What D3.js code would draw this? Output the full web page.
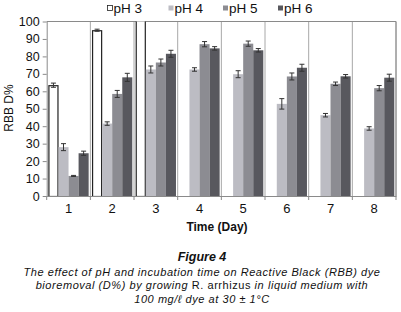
<!DOCTYPE html>
<html><head><meta charset="utf-8">
<script src="https://cdn.jsdelivr.net/npm/d3@7"></script>
<style>
body{margin:0;background:#fff;}
svg{display:block;}
text{font-family:"Liberation Sans",Arial,sans-serif;fill:#111;}
.cap{font-family:"Liberation Sans",Arial,sans-serif;}
</style></head>
<body><svg id="c" width="401" height="312"></svg>
<script>
const days = ["1","2","3","4","5","6","7","8"];
const seriesNames = ["pH 3","pH 4","pH 5","pH 6"];
const pH3 = [63.5, 95, 103, null, null, null, null, null];
const pH4 = [28, 41.5, 72.5, 72.5, 69.8, 52.8, 46.3, 38.7];
const pH5 = [11.5, 58.5, 76.5, 87, 87.3, 68.5, 64.3, 61.8];
const pH6 = [24.5, 68, 81.5, 84.6, 83.5, 73.5, 68.6, 67.8];
const err3 = [1.2, 0.6, 0, 0, 0, 0, 0, 0];
const err4 = [2, 1, 2, 1, 2, 3, 1, 1];
const err5 = [0.3, 2, 2, 1.5, 1.5, 2, 1, 1.5];
const err6 = [1.2, 2.3, 2, 1, 1, 2, 1, 2];
const yTicks = [0,10,20,30,40,50,60,70,80,90,100];
const fills = ["#ffffff","#bcbcc3","#8c8c92","#58585e"];

const svg = d3.select("#c");
const L = 46.7, R = 396, T = 21.5, B = 196;
const x = d3.scaleBand().domain(days).range([L, R]).paddingInner(0).paddingOuter(0);
const xs = d3.scaleBand().domain(seriesNames).range([0, x.bandwidth()]).paddingOuter(0.17).paddingInner(0);
const y = d3.scaleLinear().domain([0,100]).range([B, T]);

svg.append("clipPath").attr("id","pc").append("rect").attr("x",L).attr("y",T).attr("width",R-L).attr("height",B-T);

const bounds = days.map(d => x(d)).concat([R]);
svg.append("g").selectAll("line").data(bounds.slice(1)).join("line")
  .attr("x1",d=>d).attr("x2",d=>d).attr("y1",T).attr("y2",B)
  .attr("stroke","#a8a8a8").attr("stroke-width",1);
svg.append("line").attr("x1",L).attr("x2",R).attr("y1",T).attr("y2",T).attr("stroke","#8a8a8a");

const vals = [pH3,pH4,pH5,pH6], errs=[err3,err4,err5,err6];
const data = [];
days.forEach((d,i)=>seriesNames.forEach((s,j)=>{
  if(vals[j][i]!=null) data.push({d,s,j,v:vals[j][i],e:errs[j][i]});
}));
const g = svg.append("g").attr("clip-path","url(#pc)");
g.selectAll("rect").data(data).join("rect")
  .attr("x",o=>x(o.d)+xs(o.s) + (o.j===0?0.5:0))
  .attr("width",o=>xs.bandwidth() - (o.j===0?1:0))
  .attr("y",o=>y(o.v)+(o.j===0?0.5:0))
  .attr("height",o=>B-y(o.v))
  .attr("fill",o=>fills[o.j])
  .attr("stroke",o=>o.j===0?"#222":"none").attr("stroke-width",1.2);

const eb = svg.append("g").attr("stroke","#333").attr("stroke-width",1);
data.filter(o=>o.e>0).forEach(o=>{
  const cx = x(o.d)+xs(o.s)+xs.bandwidth()/2;
  eb.append("line").attr("x1",cx).attr("x2",cx).attr("y1",y(o.v+o.e)).attr("y2",y(o.v-o.e));
  eb.append("line").attr("x1",cx-2.5).attr("x2",cx+2.5).attr("y1",y(o.v+o.e)).attr("y2",y(o.v+o.e));
  eb.append("line").attr("x1",cx-2.5).attr("x2",cx+2.5).attr("y1",y(o.v-o.e)).attr("y2",y(o.v-o.e));
});

const ya = svg.append("g").attr("transform",`translate(${L},0)`)
  .call(d3.axisLeft(y).tickValues(yTicks).tickSize(4).tickPadding(3).tickSizeOuter(0));
ya.select(".domain").attr("stroke","#8a8a8a");
ya.selectAll(".tick line").attr("stroke","#8a8a8a");
ya.selectAll("text").attr("font-size",12.5).style("font-family","Liberation Sans, Arial, sans-serif").attr("fill","#111");

const xa = svg.append("g").attr("transform",`translate(0,${B})`)
  .call(d3.axisBottom(x).tickSize(0).tickPadding(8));
xa.select(".domain").attr("stroke","#8a8a8a");
xa.selectAll("text").attr("font-size",13).style("font-family","Liberation Sans, Arial, sans-serif").attr("fill","#111");
svg.append("g").selectAll("line").data(bounds).join("line")
  .attr("x1",d=>d).attr("x2",d=>d).attr("y1",B).attr("y2",B+4).attr("stroke","#8a8a8a");

svg.append("line").attr("x1",R).attr("x2",R).attr("y1",T).attr("y2",B).attr("stroke","#8a8a8a");

svg.append("text").attr("transform","translate(12.5,108) rotate(-90)").attr("text-anchor","middle")
  .attr("font-size",12).text("RBB D%");
svg.append("text").attr("x",217).attr("y",231).attr("text-anchor","middle")
  .attr("font-size",12).attr("font-weight","bold").text("Time (Day)");

const legX = [107.5, 168.5, 223, 278];
const lg = svg.append("g");
seriesNames.forEach((s,j)=>{
  lg.append("rect").attr("x",legX[j]).attr("y",5.5).attr("width",5).attr("height",5)
    .attr("fill",fills[j]).attr("stroke",j===0?"#222":"none").attr("stroke-width",0.8);
  lg.append("text").attr("x",legX[j]+6).attr("y",12.5).attr("font-size",13.5).text(s);
});

svg.append("text").attr("class","cap").attr("x",202).attr("y",261).attr("text-anchor","middle")
  .attr("font-size",12.5).attr("font-weight","bold").attr("font-style","italic").text("Figure 4");
const capLines = [
  [["The effect of pH and incubation time on Reactive Black (RBB) dye","italic"]],
  [["bioremoval (D%) by growing ","italic"],["R. arrhizus","normal"],[" in liquid medium with","italic"]],
  [["100 mg/ℓ dye at 30 ± 1°C","italic"]]
];
capLines.forEach((ln,i)=>{
  const t = svg.append("text").attr("class","cap").attr("x",202).attr("y",276+i*13.4)
    .attr("text-anchor","middle").attr("font-size",11).attr("letter-spacing",0.55);
  ln.forEach(([str,st])=>t.append("tspan").attr("font-style",st).text(str));
});
</script></body></html>
